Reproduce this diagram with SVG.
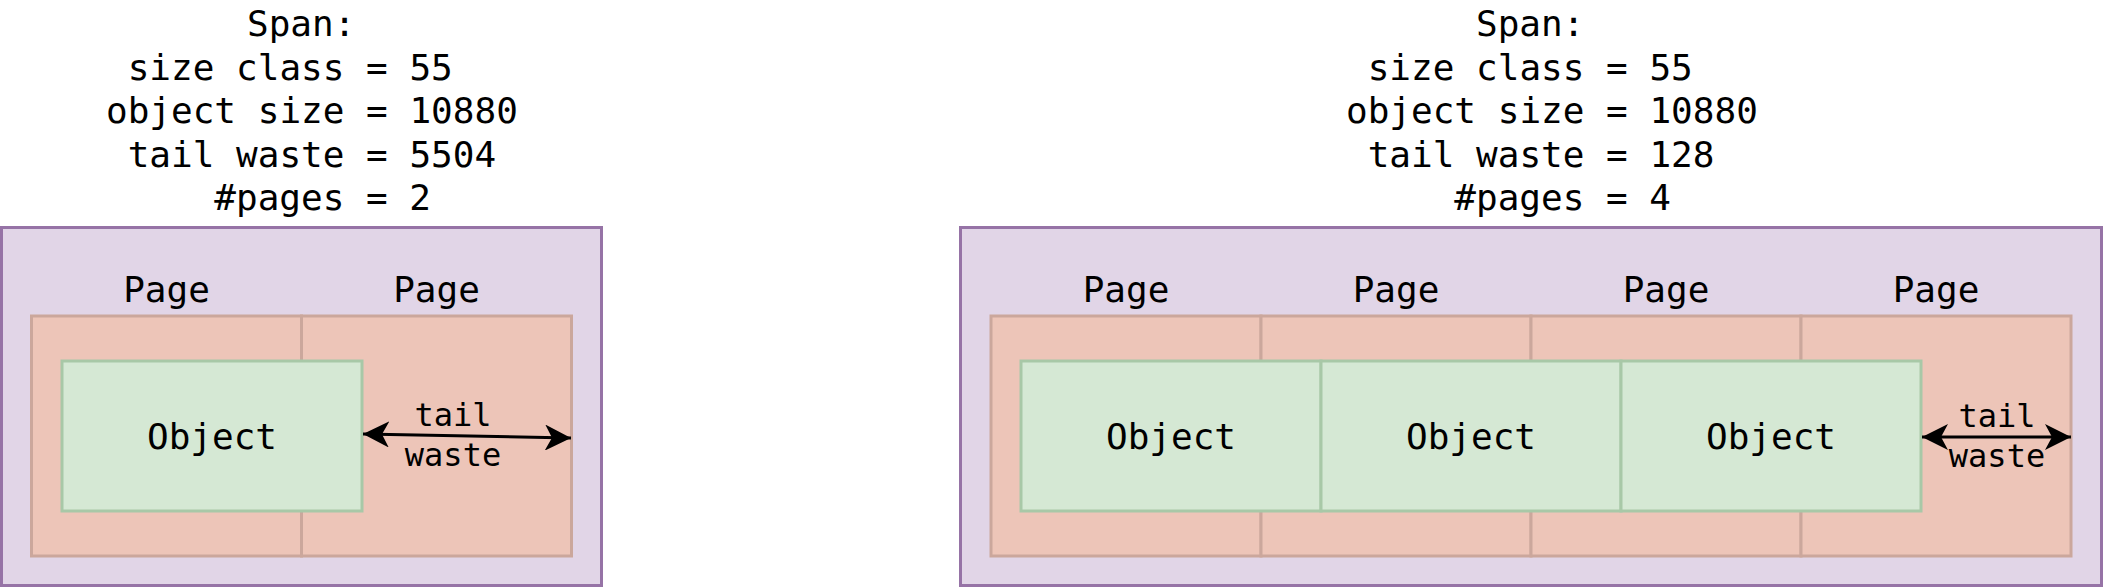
<svg xmlns="http://www.w3.org/2000/svg" width="2103" height="588" viewBox="0 0 2103 588">
<style>
  text { font-family: "DejaVu Sans Mono", "Liberation Mono", monospace; fill: #000; text-anchor: middle; }
  .hdr { font-size: 36px; text-anchor: start; }
  .lbl { font-size: 36px; }
  .tw { font-size: 32px; }
  .span { fill: #E1D5E7; stroke: #9673A6; stroke-width: 3; }
  .page { fill: #EDC5B8; stroke: #CBA79C; stroke-width: 3; }
  .obj { fill: #D5E8D4; stroke: #A8C8A7; stroke-width: 3; }
  .conn { stroke: #000; stroke-width: 3; fill: none; marker-start: url(#arr); marker-end: url(#arr); }
</style>
<defs>
  <marker id="arr" viewBox="0 0 26 26" refX="26" refY="13" markerWidth="26" markerHeight="26" markerUnits="userSpaceOnUse" orient="auto-start-reverse">
    <path d="M26,13 L0,0 L7,13 L0,26 Z" fill="#000"/>
  </marker>
</defs>
<rect width="2103" height="588" fill="#fff"/>

<g id="span-left">
  <text class="hdr" x="247" y="36">Span:</text>
  <text class="hdr" x="127.7" y="80">size class = 55</text>
  <text class="hdr" x="106" y="123">object size = 10880</text>
  <text class="hdr" x="127.7" y="167">tail waste = 5504</text>
  <text class="hdr" x="214.3" y="210">#pages = 2</text>
  <rect class="span" x="1.5" y="227.5" width="600" height="358"/>
</g>
<g id="pages-left">
  <rect class="page" x="31.5" y="316" width="270" height="240"/>
  <rect class="page" x="301.5" y="316" width="270" height="240"/>
  <text class="lbl" x="166.5" y="302">Page</text>
  <text class="lbl" x="436.5" y="302">Page</text>
</g>
<g id="object-left">
  <rect class="obj" x="62" y="361" width="300" height="150"/>
  <text class="lbl" x="212" y="449">Object</text>
</g>

<g id="span-right">
  <text class="hdr" x="1476" y="36">Span:</text>
  <text class="hdr" x="1367.7" y="80">size class = 55</text>
  <text class="hdr" x="1346" y="123">object size = 10880</text>
  <text class="hdr" x="1367.7" y="167">tail waste = 128</text>
  <text class="hdr" x="1454.3" y="210">#pages = 4</text>
  <rect class="span" x="960.5" y="227.5" width="1141" height="358"/>
</g>
<g id="pages-right">
  <rect class="page" x="991" y="316" width="270" height="240"/>
  <rect class="page" x="1261" y="316" width="270" height="240"/>
  <rect class="page" x="1531" y="316" width="270" height="240"/>
  <rect class="page" x="1801" y="316" width="270" height="240"/>
  <text class="lbl" x="1126" y="302">Page</text>
  <text class="lbl" x="1396" y="302">Page</text>
  <text class="lbl" x="1666" y="302">Page</text>
  <text class="lbl" x="1936" y="302">Page</text>
</g>
<g id="objects-right">
  <rect class="obj" x="1021" y="361" width="300" height="150"/>
  <text class="lbl" x="1171" y="449">Object</text>
  <rect class="obj" x="1321" y="361" width="300" height="150"/>
  <text class="lbl" x="1471" y="449">Object</text>
  <rect class="obj" x="1621" y="361" width="300" height="150"/>
  <text class="lbl" x="1771" y="449">Object</text>
</g>

<g id="connectors">
  <path class="conn" d="M363,434 L571,438"/>
  <text class="tw" x="453" y="426">tail</text>
  <text class="tw" x="453" y="466">waste</text>
  <path class="conn" d="M1922,437 L2071,437"/>
  <text class="tw" x="1997" y="427">tail</text>
  <text class="tw" x="1997" y="467">waste</text>
</g>
</svg>
